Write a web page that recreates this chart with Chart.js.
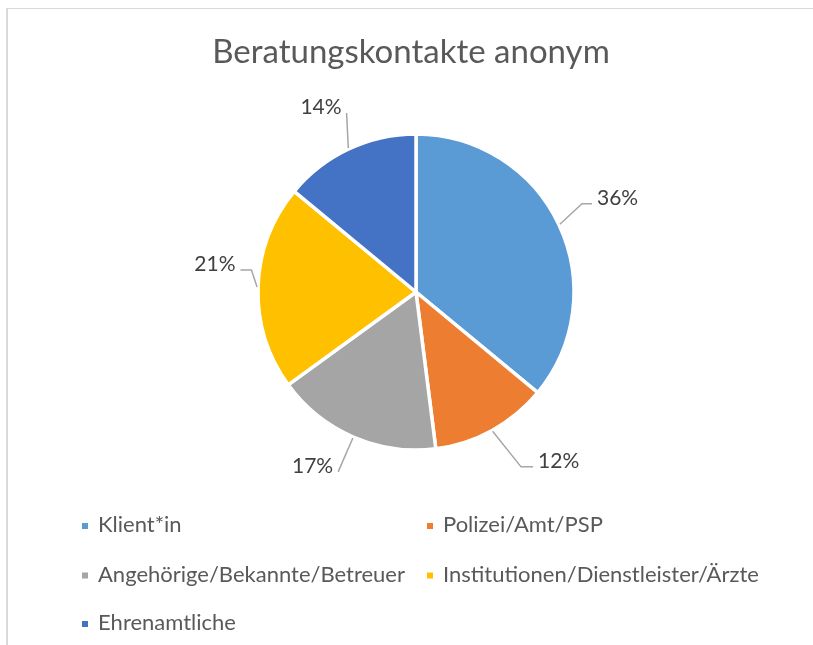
<!DOCTYPE html>
<html>
<head>
<meta charset="utf-8">
<script src="https://cdn.jsdelivr.net/npm/chart.js@4.4.0/dist/chart.umd.min.js"></script>
<style>
  html, body { margin: 0; padding: 0; background: #fff; }
</style>
</head>
<body>
<canvas id="pieChart" width="813" height="645"></canvas>
<script>
const chartTitle = "Beratungskontakte anonym";
const categories = ["Klient*in", "Polizei/Amt/PSP", "Angehörige/Bekannte/Betreuer", "Institutionen/Dienstleister/Ärzte", "Ehrenamtliche"];
const shares = [36, 12, 17, 21, 14];
const sliceColors = ["#5B9BD5", "#ED7D31", "#A5A5A5", "#FFC000", "#4472C4"];

const FONT = 'Lato, "Open Sans", sans-serif';

// leader lines: angle shift of the end point (deg), length past the rim, horizontal tail
const leaders = [
    { shift: -2.8, ext: 30, tail: 10 },
    { shift: -2.2, ext: 46, tail: 12 },
    { shift: 0, ext: 38, tail: 0 },
    { shift: 5.8, ext: 8, tail: 11 },
    { shift: 4, ext: 34, tail: 0 }
];

const legendCols = [82, 427];
const legendRows = [532, 581.5, 630];

const decor = {
    id: 'decor',
    beforeDraw(chart) {
        const c = chart.ctx;
        c.save();
        // frame of the chart area (only top and left edges are visible)
        c.fillStyle = '#d9d9d9';
        c.fillRect(6, 8, 2, chart.height - 8);
        c.fillRect(6, 8, chart.width - 6, 1);

        c.fillStyle = '#595959';
        c.font = '33px ' + FONT;
        c.textAlign = 'center';
        c.textBaseline = 'alphabetic';
        c.fillText(chartTitle, 411, 63);
        c.restore();
    },
    afterDatasetsDraw(chart) {
        const c = chart.ctx;
        const arcs = chart.getDatasetMeta(0).data;
        const total = shares.reduce((a, b) => a + b, 0);
        c.save();
        c.font = '21px ' + FONT;
        c.textBaseline = 'alphabetic';
        arcs.forEach((arc, i) => {
            const L = leaders[i];
            const mid = (arc.startAngle + arc.endAngle) / 2;
            const r = arc.outerRadius;
            const sx = arc.x + (r + 1) * Math.cos(mid);
            const sy = arc.y + (r + 1) * Math.sin(mid);
            const a2 = mid + L.shift * Math.PI / 180;
            const ex = arc.x + (r + L.ext) * Math.cos(a2);
            const ey = arc.y + (r + L.ext) * Math.sin(a2);
            const right = ex > arc.x;
            const tx = ex + (right ? L.tail : -L.tail);

            c.strokeStyle = '#a6a6a6';
            c.lineWidth = 1.5;
            c.beginPath();
            c.moveTo(sx, sy);
            c.lineTo(ex, ey);
            if (L.tail) c.lineTo(tx, ey);
            c.stroke();

            c.fillStyle = '#404040';
            c.textAlign = right ? 'left' : 'right';
            const txt = Math.round(shares[i] / total * 100) + '%';
            c.fillText(txt, tx + (right ? 5 : -5), ey + 1);
        });
        c.restore();
    },
    afterDraw(chart) {
        const c = chart.ctx;
        const colors = chart.data.datasets[0].backgroundColor;
        c.save();
        c.font = '22px ' + FONT;
        c.textAlign = 'left';
        c.textBaseline = 'alphabetic';
        chart.data.labels.forEach((lab, i) => {
            const x = legendCols[i % 2];
            const y = legendRows[Math.floor(i / 2)];
            c.fillStyle = colors[i];
            c.fillRect(x, y - 9, 6, 6);
            c.fillStyle = '#595959';
            c.fillText(lab, x + 16, y);
        });
        c.restore();
    }
};

new Chart(document.getElementById('pieChart').getContext('2d'), {
    type: 'pie',
    data: {
        labels: categories,
        datasets: [{
            data: shares,
            backgroundColor: sliceColors,
            borderColor: '#ffffff',
            borderWidth: 3.5,
            radius: 158
        }]
    },
    options: {
        responsive: false,
        animation: false,
        devicePixelRatio: 1,
        layout: { padding: { left: 120, right: 101, top: 100, bottom: 161 } },
        plugins: {
            legend: { display: false },
            title: { display: false },
            tooltip: { enabled: false }
        }
    },
    plugins: [decor]
});
</script>
</body>
</html>
